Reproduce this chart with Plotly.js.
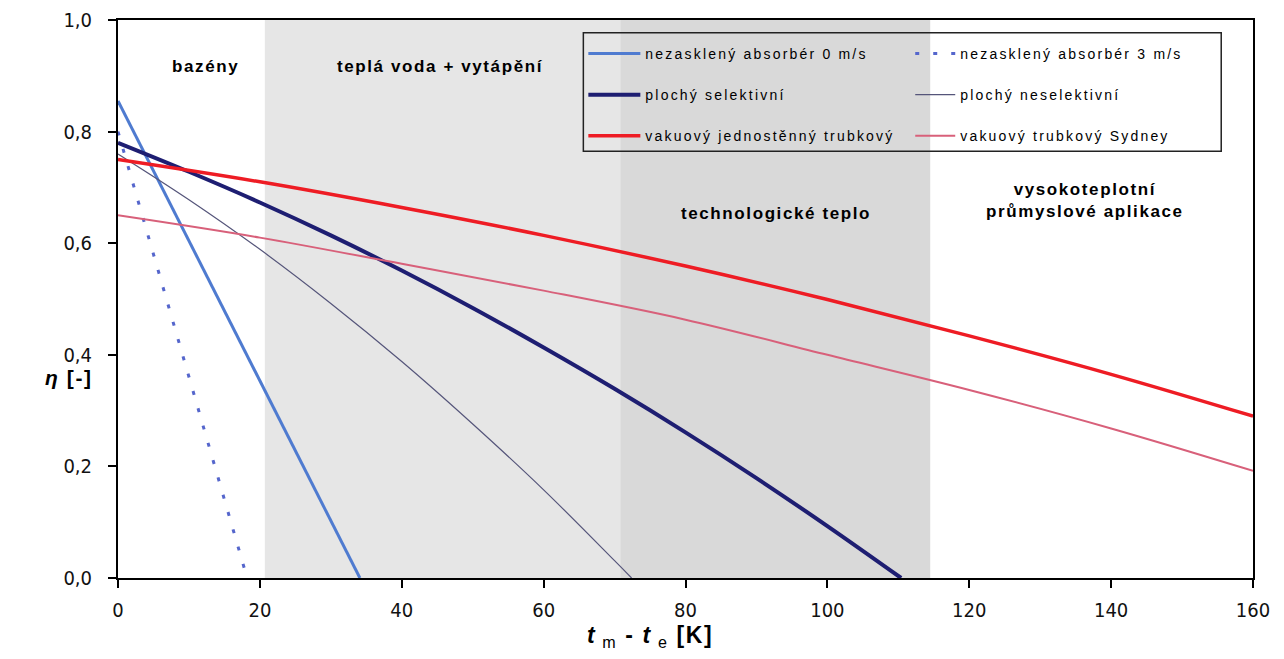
<!DOCTYPE html>
<html>
<head>
<meta charset="utf-8">
<script src="https://cdn.plot.ly/plotly-3.0.1.min.js"></script>
<style>
html,body{margin:0;padding:0;background:#fff;}
#chart{width:1284px;height:659px;}
.legend text, .legend2 text, text.legendtext{letter-spacing:2.2px !important; font-size:14px !important;}
.annotation-text{letter-spacing:1.6px;}
</style>
</head>
<body>
<div id="chart"></div>
<script>
// ---- data ----
const seriesNames = [
  "nezasklený absorbér 0 m/s",
  "nezasklený absorbér 3 m/s",
  "plochý selektivní",
  "plochý neselektivní",
  "vakuový jednostěnný trubkový",
  "vakuový trubkový Sydney"
];
const xUnglazed0 = [0, 10, 20, 30, 34.1];
const yUnglazed0 = [0.855, 0.605, 0.354, 0.103, 0.0];
const xUnglazed3 = [0, 18.2];
const yUnglazed3 = [0.80, 0.0];
const xFlatSel = [0, 10, 20, 30, 40, 50, 60, 70, 80, 90, 100, 110.4];
const yFlatSel = [0.780, 0.728, 0.673, 0.614, 0.551, 0.484, 0.413, 0.339, 0.261, 0.179, 0.093, 0.0];
const xFlatNonSel = [0, 10, 20, 30, 40, 50, 60, 70, 72.4];
const yFlatNonSel = [0.760, 0.678, 0.589, 0.492, 0.388, 0.276, 0.158, 0.031, 0.0];
const xVacuum = [0, 20, 40, 60, 80, 100, 120, 140, 160];
const yVacuum = [0.750, 0.710, 0.664, 0.614, 0.559, 0.499, 0.434, 0.365, 0.290];
const xSydney = [0, 20, 40, 60, 80, 100, 120, 140, 160];
const ySydney = [0.650, 0.610, 0.563, 0.515, 0.463, 0.400, 0.337, 0.268, 0.192];

// application zones (x boundaries) and their labels
const zoneBounds = [0, 20.7, 70.8, 114.5, 160];
const zoneLabels = ["bazény", "teplá voda + vytápění", "technologické teplo", "vysokoteplotní<br>průmyslové aplikace"];
const xTicks = [0, 20, 40, 60, 80, 100, 120, 140, 160];
const yTicks = [0, 0.2, 0.4, 0.6, 0.8, 1.0];
const xTitle = "<b><i>t</i></b><sub> m</sub><b> - <i>t</i></b><sub> e</sub><b> [K]</b>";
const yTitle = "<b><i>η</i> [-]</b>";

// ---- styling ----
const tickFont = {family: "Liberation Sans Narrow, Arial Narrow, DejaVu Sans Condensed, Liberation Sans, sans-serif", size: 20, color: "#111"};
const boldFont = {family: "Liberation Sans, Arial, sans-serif", size: 17, color: "#000"};
const legendFont = {family: "Liberation Sans, Arial, sans-serif", size: 14, color: "#000"};

const traces = [
  {x: xUnglazed0, y: yUnglazed0, name: seriesNames[0], mode: "lines", legend: "legend", legendgroup: "a",
   line: {color: "#4f7bd0", width: 3}},
  {x: xUnglazed3, y: yUnglazed3, name: seriesNames[1], mode: "lines", legend: "legend2", legendgroup: "b",
   line: {color: "#5566cc", width: 3, dash: "4px,14px"}},
  {x: xFlatSel, y: yFlatSel, name: seriesNames[2], mode: "lines", legend: "legend", legendgroup: "c",
   line: {color: "#1e1e72", width: 4, shape: "spline"}},
  {x: xFlatNonSel, y: yFlatNonSel, name: seriesNames[3], mode: "lines", legend: "legend2", legendgroup: "d",
   line: {color: "#55557a", width: 1.2, shape: "spline"}},
  {x: xVacuum, y: yVacuum, name: seriesNames[4], mode: "lines", legend: "legend", legendgroup: "e",
   line: {color: "#ee1c24", width: 3.5, shape: "spline"}},
  {x: xSydney, y: ySydney, name: seriesNames[5], mode: "lines", legend: "legend2", legendgroup: "f",
   line: {color: "#d8607a", width: 2, shape: "spline"}}
];

const zoneColors = [null, "#e6e6e6", "#d9d9d9", null];
const shapes = [];
for (let i = 0; i < zoneLabels.length; i++) {
  if (zoneColors[i]) {
    shapes.push({type: "rect", xref: "x", yref: "paper", x0: zoneBounds[i], x1: zoneBounds[i + 1], y0: 0, y1: 1,
      fillcolor: zoneColors[i], line: {width: 0}, layer: "below"});
  }
}
// legend frame
shapes.push({type: "rect", xref: "paper", yref: "paper", x0: 0.41, x1: 0.972, y0: 0.765, y1: 0.977,
  line: {color: "#222", width: 1.5}, fillcolor: "rgba(0,0,0,0)", layer: "above"});

const labelPos = [
  {x: 12.3, y: 0.916},
  {x: 45.4, y: 0.916},
  {x: 92.7, y: 0.654},
  {x: 136.3, y: 0.676}
];
const annotations = zoneLabels.map((t, i) => ({
  text: "<b>" + t + "</b>", x: labelPos[i].x, y: labelPos[i].y, xref: "x", yref: "y",
  showarrow: false, font: boldFont, align: "center"
}));
// y-axis title (horizontal, as in the reference)
annotations.push({
  text: yTitle, xref: "paper", yref: "paper", x: -0.043, y: 0.36, xanchor: "center",
  showarrow: false, font: {family: "Liberation Sans, Arial, sans-serif", size: 21, color: "#000"}
});
// x-axis title
annotations.push({
  text: xTitle, xref: "paper", yref: "paper", x: 0.469, y: -0.105, xanchor: "center", yanchor: "middle",
  showarrow: false, font: {family: "Liberation Sans, Arial, sans-serif", size: 23, color: "#000"}
});

const axisCommon = {
  showline: true, linecolor: "#000", linewidth: 2, mirror: true,
  ticks: "outside", ticklen: 8, tickwidth: 2, tickcolor: "#000",
  showgrid: false, zeroline: false, tickfont: tickFont, fixedrange: true
};

const layout = {
  width: 1284, height: 659,
  margin: {l: 118, r: 31, t: 20, b: 81},
  paper_bgcolor: "#fff", plot_bgcolor: "#fff",
  font: legendFont,
  separators: ",.",
  showlegend: true,
  xaxis: Object.assign({}, axisCommon, {
    range: [0, 160], tickvals: xTicks, ticklabelstandoff: 5
  }),
  yaxis: Object.assign({}, axisCommon, {
    range: [0, 1.0], tickvals: yTicks, tickformat: ".1f", ticklabelstandoff: 12
  }),
  legend: {x: 0.41, y: 0.968, xanchor: "left", yanchor: "top", bgcolor: "rgba(0,0,0,0)",
    borderwidth: 0, font: legendFont, tracegroupgap: 20, itemwidth: 52},
  legend2: {x: 0.698, y: 0.968, xanchor: "left", yanchor: "top", bgcolor: "rgba(0,0,0,0)",
    borderwidth: 0, font: legendFont, tracegroupgap: 20, itemwidth: 40},
  shapes: shapes,
  annotations: annotations
};

function spaceLegendText(gd) {
  gd.querySelectorAll("g.infolayer text").forEach(function (t) {
    if (t.closest(".legend, .legend2") || t.classList.contains("legendtext")) {
      t.style.setProperty("letter-spacing", "2.2px", "important");
      t.style.setProperty("font-size", "14px", "important");
    }
  });
  // the wider spaced text must not be cut by the legend clip boxes
  gd.querySelectorAll("g.infolayer .legend [clip-path], g.infolayer .legend2 [clip-path], g.infolayer .legend, g.infolayer .legend2").forEach(function (el) {
    el.removeAttribute("clip-path");
  });
}
Plotly.newPlot("chart", traces, layout, {displayModeBar: false, staticPlot: true}).then(function (gd) {
  spaceLegendText(gd);
  setTimeout(function () { spaceLegendText(gd); }, 200);
});
</script>
</body>
</html>
